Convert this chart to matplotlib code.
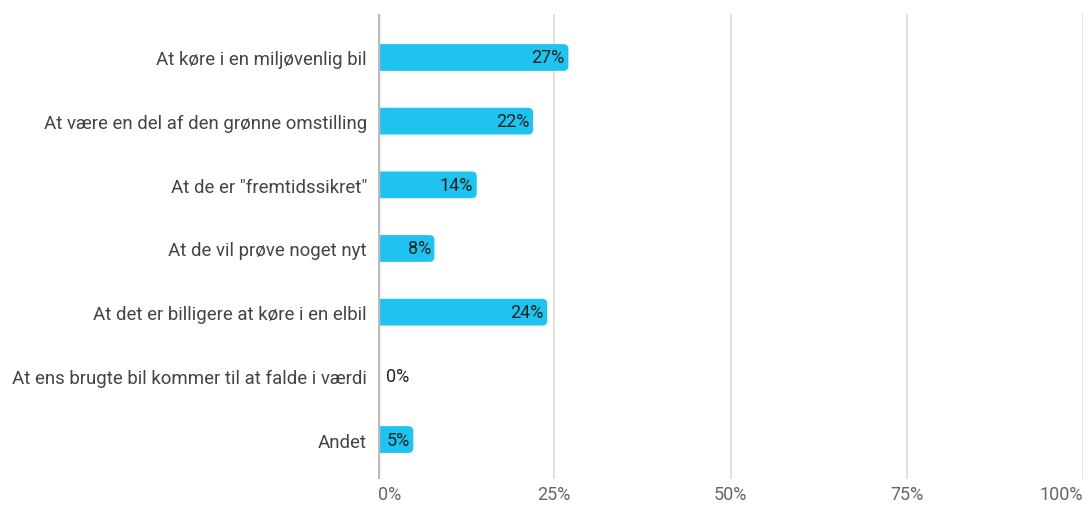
import matplotlib.pyplot as plt
from matplotlib.patches import FancyBboxPatch

categories = [
    "At køre i en miljøvenlig bil",
    "At være en del af den grønne omstilling",
    'At de er "fremtidssikret"',
    "At de vil prøve noget nyt",
    "At det er billigere at køre i en elbil",
    "At ens brugte bil kommer til at falde i værdi",
    "Andet",
]
values = [27, 22, 14, 8, 24, 0, 5]
xticks = [0, 25, 50, 75, 100]

plt.rcParams['font.family'] = ['Roboto', 'DejaVu Sans']

fig = plt.figure(figsize=(10.91, 5.06), dpi=100)
ax = fig.add_axes([0.3465, 0.0514, 0.6462, 0.9186])

bar_color = "#1EC3F0"
pos = list(range(len(categories)))
bars = ax.barh(pos, values, height=0.42, color=bar_color, zorder=3)

ax.set_xlim(0, 100)
ax.set_ylim(6.62, -0.68)

# swap rectangles for rounded boxes (radius ~5px)
r = 0.7
for b in bars:
    b.set_visible(False)
    if b.get_width() == 0:
        continue
    box = FancyBboxPatch((b.get_x() - r, b.get_y()), b.get_width() + r, b.get_height(),
                         boxstyle=f"round,pad=0,rounding_size={r}",
                         mutation_aspect=0.11, facecolor=bar_color,
                         edgecolor='none', zorder=3)
    ax.add_patch(box)

# value labels
for y, v in zip(pos, values):
    if v >= 3:
        ax.text(v - 0.5, y, f"{v}%", ha='right', va='center', fontsize=13,
                color="#222222", zorder=4)
    else:
        ax.text(v + 1.2, y, f"{v}%", ha='left', va='center', fontsize=13,
                color="#222222", zorder=4)

ax.set_xticks(xticks)
ax.set_xticklabels([f"{t}%" for t in xticks])
ax.set_yticks(pos)
ax.set_yticklabels(categories)
xl = ax.get_xticklabels()
xl[0].set_ha('left')
xl[-1].set_ha('right')

for t in xticks[1:]:
    ax.axvline(t, color="#dddddd", linewidth=1.3, zorder=1)
ax.axvline(0, color="#bbbbbb", linewidth=2.5, zorder=4)

for s in ax.spines.values():
    s.set_visible(False)
ax.tick_params(axis='y', length=0, pad=8, labelsize=13.4, labelcolor="#444444")
ax.tick_params(axis='x', length=0, pad=4, labelsize=13, labelcolor="#666666")

fig.savefig("out.png", dpi=100)
